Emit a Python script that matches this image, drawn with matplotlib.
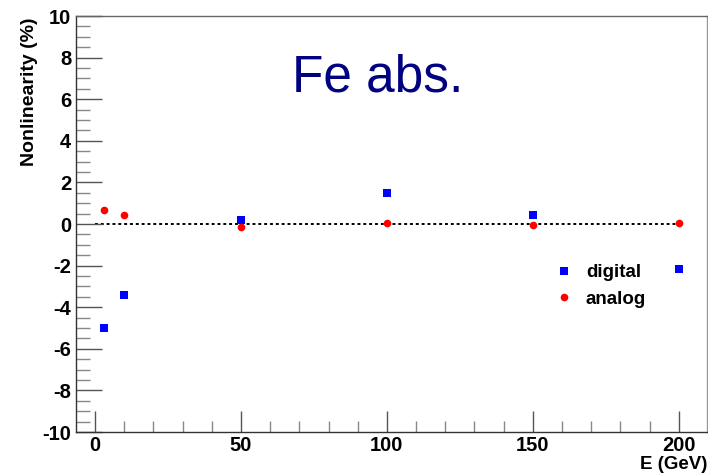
import matplotlib
matplotlib.use("Agg")
import matplotlib.pyplot as plt
from matplotlib.ticker import MultipleLocator

energy = [3, 10, 50, 100, 150, 200]
digital = [-5.02, -3.42, 0.18, 1.50, 0.42, -2.14]
analog = [0.66, 0.41, -0.15, 0.04, -0.04, 0.07]

plt.rcParams['font.family'] = ['Liberation Sans', 'DejaVu Sans']
plt.rcParams['axes.unicode_minus'] = False

fig = plt.figure(figsize=(7.08, 4.75), dpi=100)
ax = fig.add_axes([75.5/708, 1-432/475, (706.5-75.5)/708, (432-16)/475])

ax.set_xlim(-6.7, 209.5)
ax.set_ylim(-10, 10)

ax.plot([0, 200], [0, 0], color='black', linestyle=(0, (1.5, 1.5)), linewidth=1.4, zorder=1)
ax.plot(energy, digital, linestyle='none', marker='s', markersize=5.5, color='#0000ff',
        markeredgewidth=0, label='digital', zorder=3)
ax.plot(energy, analog, linestyle='none', marker='o', markersize=5.5, color='#ff0000',
        markeredgewidth=0, label='analog', zorder=3)

ax.xaxis.set_major_locator(MultipleLocator(50))
ax.xaxis.set_minor_locator(MultipleLocator(10))
ax.yaxis.set_major_locator(MultipleLocator(2))
ax.yaxis.set_minor_locator(MultipleLocator(0.5))

ax.tick_params(axis='x', which='major', direction='in', length=15, width=1, color='#555555',
               labelsize=14.5, pad=3)
ax.tick_params(axis='x', which='minor', direction='in', length=8, width=1, color='#888888')
ax.tick_params(axis='y', which='major', direction='in', length=19, width=1, color='#555555',
               labelsize=14.5, pad=3)
ax.tick_params(axis='y', which='minor', direction='in', length=10, width=1, color='#888888')
for lab in ax.get_xticklabels() + ax.get_yticklabels():
    lab.set_fontweight('bold')

for s in ax.spines.values():
    s.set_linewidth(1.0)
    s.set_color('#333333')
ax.spines['right'].set_color('#999999')
ax.spines['top'].set_color('#666666')

fig.text(0.999, 0.005, 'E (GeV)', ha='right', va='bottom', fontsize=13.5, fontweight='bold')
fig.text(30/708, 1-18/475, 'Nonlinearity (%)', rotation=90, ha='center', va='top',
         fontsize=14, fontweight='bold')

ax.text(378/708, 1-78/475, 'Fe abs.', transform=fig.transFigure, ha='center', va='center',
        fontsize=37, color='#000080')

leg = ax.legend(loc='upper left', bbox_to_anchor=(556/708, 1-264/475), bbox_transform=fig.transFigure,
                frameon=False, prop={'weight': 'bold', 'size': 13.5}, handlelength=0.8,
                handletextpad=0.8, labelspacing=0.5, borderpad=0, borderaxespad=0)

fig.savefig('out.png', dpi=100)
